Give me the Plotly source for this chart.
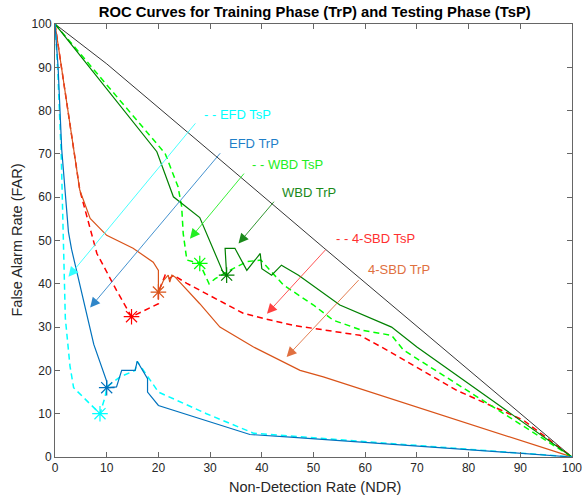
import plotly.graph_objects as go

# ---------------- data ----------------
chance_x = [0, 10, 31, 52, 100]
chance_y = [100, 90.8, 69.6, 48.3, 0]

efd_trp_x = [0, 0.6, 1.3, 2.6, 3.2, 7.5, 10, 10, 11.9, 12.2, 12.9, 15.5, 15.9, 17.9, 17.9, 20, 37.7, 45.5, 100]
efd_trp_y = [100, 90, 71, 52, 48, 26, 17.5, 16, 16.2, 17.3, 20, 20, 22.1, 18.1, 15, 11.9, 5.2, 4.6, 0]

efd_tsp_x = [0, 0.5, 1.2, 1.6, 1.8, 2.0, 2.9, 3.6, 8.7, 9.7, 10, 12.6, 15.5, 15.9, 20, 29.3, 38.4, 100]
efd_tsp_y = [100, 90, 70, 50, 40, 32, 21, 16, 10, 13.9, 16.2, 18.5, 20, 22.1, 15, 10, 5.5, 0]

wbd_trp_x = [0, 19.7, 22.9, 28, 32.6, 33.2, 32.9, 34.8, 37.1, 39.7, 40, 41.9, 43.8, 47.1, 55.1, 65.1, 70, 100]
wbd_trp_y = [100, 70.5, 60.1, 55.3, 42.4, 42, 48.2, 48.2, 43.1, 47, 43.5, 42, 44.3, 42, 35.1, 30, 25.4, 0]

wbd_tsp_x = [0, 21.3, 23.8, 24.5, 24.8, 25.5, 28, 29.8, 31, 33.8, 37.1, 39.8, 44.2, 50, 53.8, 59.3, 65.1, 67.4, 100]
wbd_tsp_y = [100, 70.1, 62.4, 57.8, 51.6, 45.5, 44.7, 40, 41.2, 43.1, 45.1, 45.5, 39.7, 35.1, 31.6, 29.3, 28.1, 24.7, 0]

sbd_trp_x = [0, 4.8, 6.8, 10, 15.1, 19, 20, 20, 20.6, 21, 21.9, 22.2, 22.6, 23.2, 28, 31.9, 38.4, 47.4, 51.9, 100]
sbd_trp_y = [100, 61.6, 55.1, 51.2, 48.2, 45, 43.1, 38.1, 39.7, 40.8, 42, 40.4, 42, 41.6, 35.4, 30, 25.4, 20, 18.5, 0]

sbd_tsp_x = [0, 4.8, 8.1, 11.9, 14.8, 19, 20, 20, 20.6, 21.3, 22.2, 22.9, 25.5, 36.4, 40.3, 46.1, 59, 64.8, 77.7, 90.6, 100]
sbd_tsp_y = [100, 61.6, 47, 38.5, 32.4, 34.7, 35.4, 38.1, 40, 42, 41.2, 42, 40.1, 33.2, 32, 30.4, 28.1, 24.3, 15.4, 8.5, 0]

# operating points (stars)
star_names = ["EFD TrP", "EFD TsP", "WBD TrP", "WBD TsP", "4-SBD TrP", "4-SBD TsP"]
star_x = [10, 8.7, 33.2, 28, 20, 14.8]
star_y = [16, 10, 42, 44.7, 38.1, 32.4]

# callout labels: text, arrow head (x,y), arrow tail (x,y), text left (x,y)
label_text = ["- - EFD TsP", "EFD TrP", "- - WBD TsP", "WBD TrP", "- - 4-SBD TsP", "4-SBD TrP"]
label_head_x = [2.6, 6.8, 26.1, 35.5, 41.0, 44.8]
label_head_y = [41.6, 34.5, 50.4, 49.3, 33.1, 23.1]
label_tail_x = [27.4, 32.2, 36.8, 42.6, 52.6, 59.0]
label_tail_y = [77.4, 70.5, 65.8, 59.3, 48.2, 41.2]
label_pos_x = [28.4, 33.3, 37.8, 43.6, 54.0, 60.1]
label_pos_y = [79.0, 72.4, 67.6, 61.1, 50.5, 43.3]

x_ticks = list(range(0, 101, 10))
y_ticks = list(range(0, 101, 10))

# ---------------- styles ----------------
C_CYAN = "#00FFFF"
C_BLUE = "#0072BD"
C_LGREEN = "#00FF00"
C_DGREEN = "#008000"
C_RED = "#FF0000"
C_ORANGE = "#D95319"

star_colors = [C_BLUE, C_CYAN, C_DGREEN, C_LGREEN, C_ORANGE, C_RED]
label_colors = [C_CYAN, "#1f7fc8", "#22ee22", "#1a8a1a", "#ff3030", "#e0703f"]
arrow_colors = ["#33ffff", "#2f86c9", "#22ee22", "#1a8a1a", "#ff4040", "#e07040"]

DASH = "6px,4px"
FONT = "Arial, Liberation Sans, Helvetica, sans-serif"

fig = go.Figure()

def line(x, y, color, dash=None, width=1.2):
    fig.add_trace(go.Scatter(x=x, y=y, mode="lines",
                             line=dict(color=color, width=width, dash=dash),
                             showlegend=False, hoverinfo="skip"))

line(chance_x, chance_y, "#000000", width=0.8)
line(sbd_tsp_x, sbd_tsp_y, C_RED, DASH, 1.5)
line(sbd_trp_x, sbd_trp_y, C_ORANGE)
line(wbd_tsp_x, wbd_tsp_y, C_LGREEN, DASH, 1.5)
line(wbd_trp_x, wbd_trp_y, C_DGREEN)
line(efd_tsp_x, efd_tsp_y, C_CYAN, DASH, 1.5)
line(efd_trp_x, efd_trp_y, C_BLUE)

for sx, sy, col in zip(star_x, star_y, star_colors):
    fig.add_trace(go.Scatter(x=[sx], y=[sy], mode="markers",
                             marker=dict(symbol="asterisk-open", size=13, color=col,
                                         line=dict(color=col, width=1.2)),
                             showlegend=False, hoverinfo="skip"))

annotations = []
for t, hx, hy, tx, ty, px, py, tc, ac in zip(label_text, label_head_x, label_head_y,
                                              label_tail_x, label_tail_y,
                                              label_pos_x, label_pos_y,
                                              label_colors, arrow_colors):
    annotations.append(dict(x=hx, y=hy, ax=tx, ay=ty, xref="x", yref="y",
                            axref="x", ayref="y", text="", showarrow=True,
                            arrowhead=2, arrowsize=2.2, arrowwidth=0.9,
                            arrowcolor=ac))
    annotations.append(dict(x=px, y=py, xref="x", yref="y", text=t,
                            showarrow=False, xanchor="left", yanchor="middle",
                            font=dict(family=FONT, size=13, color=tc)))

annotations.append(dict(x=0.503, y=-0.0686, xref="paper", yref="paper",
                        text="Non-Detection Rate (NDR)", showarrow=False,
                        xanchor="center", yanchor="middle",
                        font=dict(family=FONT, size=14.5, color="#262626")))
annotations.append(dict(x=-0.0754, y=0.5, xref="paper", yref="paper",
                        text="False Alarm Rate (FAR)", showarrow=False,
                        textangle=-90, xanchor="center", yanchor="middle",
                        font=dict(family=FONT, size=14.5, color="#262626")))

axis_common = dict(showgrid=False, zeroline=False, showline=True,
                   linecolor="#666666", linewidth=1, mirror="allticks",
                   ticks="inside", ticklen=5, tickcolor="#666666",
                   tickfont=dict(family=FONT, size=12, color="#262626"))

fig.update_layout(
    width=585, height=498,
    margin=dict(l=55, r=13, t=24, b=41, autoexpand=False),
    plot_bgcolor="white", paper_bgcolor="white",
    title=dict(text="<b>ROC Curves for Training Phase (TrP) and Testing Phase (TsP)</b>",
               x=0.538, xanchor="center", y=1 - 12 / 498, yanchor="middle",
               yref="container",
               font=dict(family=FONT, size=14.8, color="#000000")),
    xaxis=dict(range=[0, 100], tickvals=x_ticks, **axis_common),
    yaxis=dict(range=[0, 100], tickvals=y_ticks, **axis_common),
    annotations=annotations,
)

fig.write_html("out.html",
               config={"displayModeBar": False},
               post_script="document.body.style.margin='0';document.body.style.overflow='hidden';")
